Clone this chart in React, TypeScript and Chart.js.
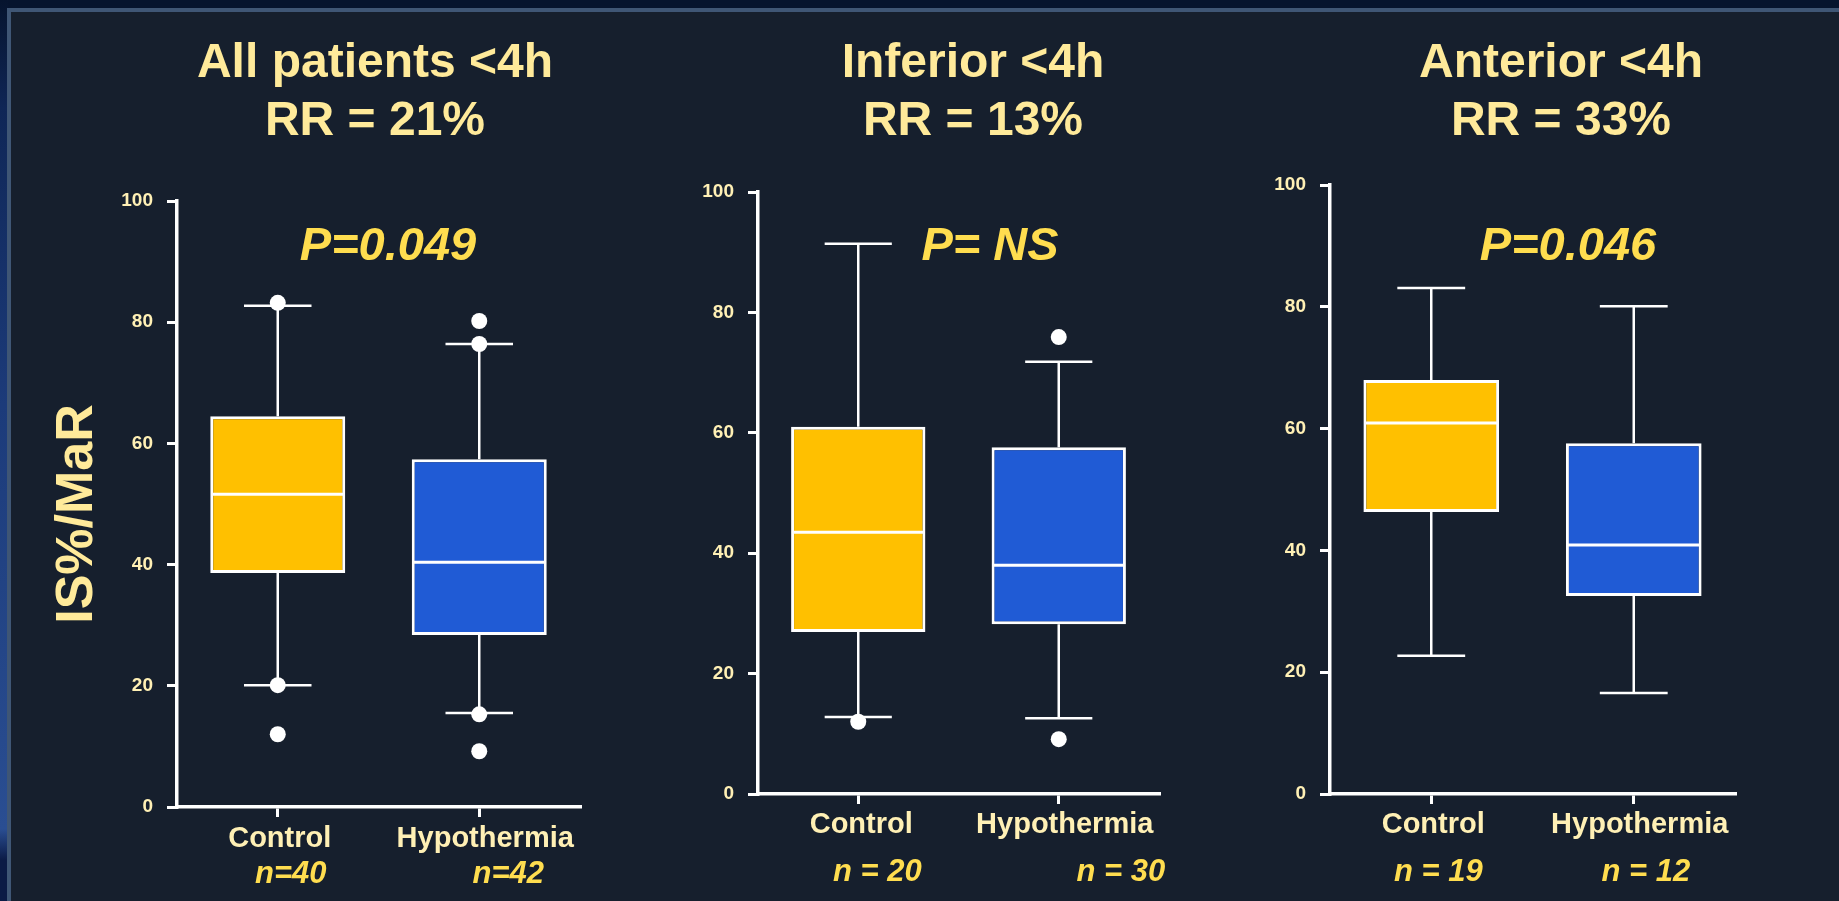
import React, { useEffect, useRef } from "react";
import { Chart, registerables } from "chart.js";

Chart.register(...registerables);

// ---------- data ----------
const categories = ["Control", "Hypothermia"];
const yMin = 0;
const yMax = 100;
const yStep = 20;

const panelTitles = ["All patients <4h", "Inferior <4h", "Anterior <4h"];
const rrLabels = ["RR = 21%", "RR = 13%", "RR = 33%"];
const pLabels = ["P=0.049", "P= NS", "P=0.046"];
const yAxisTitle = "IS%/MaR";

const allN = ["n=40", "n=42"];
const allLow = [20.1, 15.5];
const allQ1 = [38.6, 28.4];
const allMedian = [51.6, 40.4];
const allQ3 = [64.5, 57.4];
const allHigh = [82.7, 76.4];
const allOutliers = [[83.2, 20.1, 12.0], [80.2, 76.4, 15.3, 9.2]];

const infN = ["n = 20", "n = 30"];
const infLow = [12.8, 12.6];
const infQ1 = [26.9, 28.2];
const infMedian = [43.5, 38.0];
const infQ3 = [61.0, 57.6];
const infHigh = [91.4, 71.8];
const infOutliers = [[12.0], [75.9, 9.1]];

const antN = ["n = 19", "n = 12"];
const antLow = [22.7, 16.6];
const antQ1 = [46.3, 32.5];
const antMedian = [60.9, 40.9];
const antQ3 = [68.0, 57.6];
const antHigh = [83.1, 80.1];
const antOutliers: number[][] = [[], []];

// ---------- styles / layout ----------
const FONT = "'Liberation Sans', Arial, sans-serif";
const TITLE_COLOR = "#FFEA9A";
const TICK_COLOR = "#FFF0B5";
const P_COLOR = "#FFDD4F";
const BOX_COLORS = ["#FFC000", "#205BD5"];

const panels = [
  {
    title: panelTitles[0], rr: rrLabels[0], p: pLabels[0], n: allN,
    low: allLow, q1: allQ1, median: allMedian, q3: allQ3, high: allHigh, outliers: allOutliers,
    yTitle: true,
    layout: { left: 0, width: 640, yWidth: 177, padRight: 60, padTop: 201, padBottom: 34, titleX: 375, pX: 388, nOffsets: [13, 29], nBase: 883, catOffsets: [2, 6], catBase: 847 },
  },
  {
    title: panelTitles[1], rr: rrLabels[1], p: pLabels[1], n: infN,
    low: infLow, q1: infQ1, median: infMedian, q3: infQ3, high: infHigh, outliers: infOutliers,
    yTitle: false,
    layout: { left: 640, width: 590, yWidth: 118, padRight: 71, padTop: 192, padBottom: 47, titleX: 333, pX: 350, nOffsets: [19, 62], nBase: 881, catOffsets: [3, 6], catBase: 833 },
  },
  {
    title: panelTitles[2], rr: rrLabels[2], p: pLabels[2], n: antN,
    low: antLow, q1: antQ1, median: antMedian, q3: antQ3, high: antHigh, outliers: antOutliers,
    yTitle: false,
    layout: { left: 1230, width: 609, yWidth: 100, padRight: 104, padTop: 185, padBottom: 47, titleX: 331, pX: 338, nOffsets: [7, 12], nBase: 881, catOffsets: [2, 6], catBase: 833 },
  },
];

function BoxPanel({ panel }: { panel: any }) {
  const ref = useRef<HTMLCanvasElement>(null);
  const L = panel.layout;

  useEffect(() => {
    const canvas = ref.current!;

    const extras = {
      id: "boxExtras",
      beforeDatasetsDraw(chart: any) {
        const ctx = chart.ctx;
        const ys = chart.scales.y;
        const meta = chart.getDatasetMeta(0);
        ctx.save();
        ctx.strokeStyle = "#ffffff";
        ctx.lineWidth = 2.5;
        meta.data.forEach((bar: any, i: number) => {
          const x = bar.x;
          const half = bar.width / 4;
          const yHi = ys.getPixelForValue(panel.high[i]);
          const yQ3 = ys.getPixelForValue(panel.q3[i]);
          const yQ1 = ys.getPixelForValue(panel.q1[i]);
          const yLo = ys.getPixelForValue(panel.low[i]);
          ctx.beginPath();
          ctx.moveTo(x, yQ3);
          ctx.lineTo(x, yHi);
          ctx.moveTo(x - half, yHi);
          ctx.lineTo(x + half, yHi);
          ctx.moveTo(x, yQ1);
          ctx.lineTo(x, yLo);
          ctx.moveTo(x - half, yLo);
          ctx.lineTo(x + half, yLo);
          ctx.stroke();
        });
        ctx.restore();
      },
      afterDatasetDraw(chart: any, args: any) {
        if (args.index !== 0) return;
        const ctx = chart.ctx;
        const ys = chart.scales.y;
        const meta = chart.getDatasetMeta(0);
        ctx.save();
        ctx.strokeStyle = "#ffffff";
        ctx.lineWidth = 3;
        meta.data.forEach((bar: any, i: number) => {
          const ym = ys.getPixelForValue(panel.median[i]);
          ctx.beginPath();
          ctx.moveTo(bar.x - bar.width / 2 + 2, ym);
          ctx.lineTo(bar.x + bar.width / 2 - 2, ym);
          ctx.stroke();
        });
        ctx.restore();
      },
      afterDraw(chart: any) {
        const ctx = chart.ctx;
        const xs = chart.scales.x;
        const area = chart.chartArea;
        ctx.save();
        ctx.textAlign = "center";
        ctx.textBaseline = "alphabetic";
        // panel titles
        ctx.fillStyle = TITLE_COLOR;
        ctx.font = `bold 48px ${FONT}`;
        ctx.fillText(panel.title, L.titleX, 77);
        ctx.fillText(panel.rr, L.titleX, 135);
        // p-value
        ctx.fillStyle = P_COLOR;
        ctx.font = `italic bold 47px ${FONT}`;
        ctx.fillText(panel.p, L.pX, 260);
        // category labels
        ctx.fillStyle = TICK_COLOR;
        ctx.font = `bold 29px ${FONT}`;
        categories.forEach((c, i) => {
          ctx.fillText(c, xs.getPixelForValue(i) + L.catOffsets[i], L.catBase);
        });
        // n labels
        ctx.fillStyle = P_COLOR;
        ctx.font = `italic bold 31px ${FONT}`;
        panel.n.forEach((t: string, i: number) => {
          ctx.fillText(t, xs.getPixelForValue(i) + L.nOffsets[i], L.nBase);
        });
        // y-axis title
        if (panel.yTitle) {
          ctx.fillStyle = TITLE_COLOR;
          ctx.font = `bold 52px ${FONT}`;
          ctx.translate(92, (area.top + area.bottom) / 2 + 10);
          ctx.rotate(-Math.PI / 2);
          ctx.fillText(yAxisTitle, 0, 0);
        }
        ctx.restore();
      },
    };

    const outlierPoints = panel.outliers.flatMap((arr: number[], i: number) =>
      arr.map((v) => ({ x: categories[i], y: v }))
    );

    const chart = new Chart(canvas, {
      type: "bar",
      data: {
        labels: categories,
        datasets: [
          {
            type: "bar",
            data: categories.map((_, i) => [panel.q1[i], panel.q3[i]]),
            backgroundColor: BOX_COLORS,
            borderColor: "#ffffff",
            borderWidth: 3,
            borderSkipped: false,
            barPercentage: 0.67,
            categoryPercentage: 1,
          } as any,
          {
            type: "scatter",
            data: outlierPoints,
            pointStyle: "circle",
            pointRadius: 8,
            backgroundColor: "#ffffff",
            borderWidth: 0,
          } as any,
        ],
      },
      options: {
        responsive: false,
        animation: false,
        events: [],
        layout: { padding: { left: 0, right: L.padRight, top: L.padTop, bottom: L.padBottom } },
        plugins: { legend: { display: false }, tooltip: { enabled: false }, title: { display: false } },
        scales: {
          x: {
            type: "category",
            offset: true,
            grid: {
              display: true,
              drawOnChartArea: false,
              drawTicks: true,
              tickLength: 10,
              color: "#ffffff",
              lineWidth: 3,
              offset: false,
            },
            border: { display: true, color: "#ffffff", width: 3.5 },
            ticks: {
              color: "rgba(0,0,0,0)",
              font: { family: FONT, size: 24, weight: "bold" },
              padding: 3,
              maxRotation: 0,
              autoSkip: false,
            },
            afterFit: (s: any) => {
              s.height = 60;
            },
          },
          y: {
            type: "linear",
            min: yMin,
            max: yMax,
            grid: {
              display: true,
              drawOnChartArea: false,
              drawTicks: true,
              tickLength: 10,
              color: "#ffffff",
              lineWidth: 3,
            },
            border: { display: true, color: "#ffffff", width: 3.5 },
            ticks: {
              stepSize: yStep,
              color: TICK_COLOR,
              font: { family: FONT, size: 19, weight: "bold" },
              padding: 14,
            },
            afterFit: (s: any) => {
              s.width = L.yWidth;
            },
          },
        },
      } as any,
      plugins: [extras],
    });
    return () => chart.destroy();
  }, []);

  return (
    <canvas
      ref={ref}
      width={L.width}
      height={901}
      style={{ position: "absolute", left: L.left, top: 0, width: L.width, height: 901 }}
    />
  );
}

export default function App() {
  return (
    <div
      style={{
        position: "fixed",
        left: 0,
        top: 0,
        width: 1839,
        height: 901,
        overflow: "hidden",
        background: "#06142E",
      }}
    >
      <div
        style={{
          position: "absolute",
          left: 0,
          top: 0,
          width: 8,
          height: 901,
          background:
            "linear-gradient(to bottom, #06142E 0%, #0f2656 12%, #1c3b7a 45%, #2a4e92 92%, #0b1a45 95.5%, #0b1a45 100%)",
        }}
      />
      <div
        style={{
          position: "absolute",
          left: 7,
          top: 8,
          right: 0,
          bottom: 0,
          background: "#161F2D",
          borderLeft: "4px solid #3F5675",
          borderTop: "4px solid #3F5675",
        }}
      />
      {panels.map((p, i) => (
        <BoxPanel key={i} panel={p} />
      ))}
    </div>
  );
}
